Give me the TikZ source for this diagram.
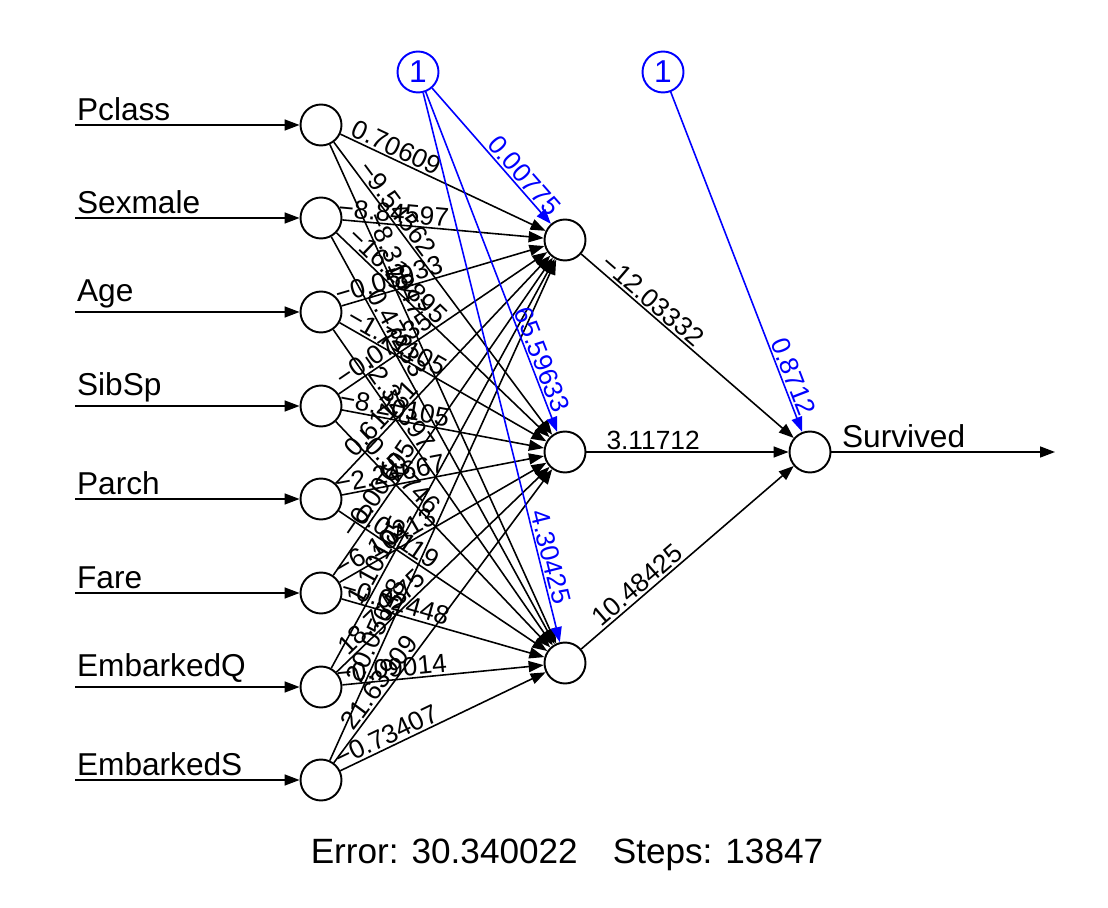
\documentclass[tikz,border=0pt]{standalone}
\usepackage{fontspec}
\setmainfont{Liberation Sans}
\usetikzlibrary{arrows.meta}

\tikzset{
  neuron/.style={draw, circle, line width=1.1pt, minimum size=0.82cm, inner sep=0pt},
  conn/.style={-{Triangle[length=0.3cm,width=0.22cm]}, line width=0.9pt},
  wlabel/.style={sloped, above, inner sep=1pt, font=\fontsize{15}{15}\selectfont},
  bconn/.style={conn, draw=blue},
  blabel/.style={wlabel, text=blue},
  iolabel/.style={anchor=south west, inner sep=1pt, font=\fontsize{18}{18}\selectfont}
}

\begin{document}
\begin{tikzpicture}[x=0.02cm, y=-0.02cm]
\useasboundingbox (0,0) rectangle (1108,908);

% input layer
\foreach \name/\yy [count=\i] in {Pclass/125, Sexmale/218, Age/312, SibSp/406, Parch/499, Fare/593, EmbarkedQ/687, EmbarkedS/780}{
    \node[neuron] (in\i) at (321,\yy) {};
    \coordinate (src\i) at (75,\yy);
    \node[iolabel] (lab\i) at (75,\yy-2) {\name};
    \draw[conn] (src\i) -- (in\i);
}

% hidden and output layer
\node[neuron] (hid1) at (565,240) {};
\node[neuron] (hid2) at (565,452) {};
\node[neuron] (hid3) at (565,663) {};
\node[neuron] (out) at (810,452) {};
\node[neuron, draw=blue, text=blue, font=\fontsize{18}{18}\selectfont] (bias1) at (418,72) {1};
\node[neuron, draw=blue, text=blue, font=\fontsize{18}{18}\selectfont] (bias2) at (663,72) {1};

% input -> hidden weights
\foreach \i/\wa/\wb/\wc in {1/0.70609/−9.54562/−8.31647, 2/−8.84597/−16.29895/0.47233,
    3/−0.05933/−1.71105/−2.32397, 4/−0.07835/−8.20105/−0.52746,
    5/0.61171/−2.24667/0.03119, 6/−0.00605/−6.10413/−0.02448,
    7/1.10105/18.71575/−0.09014, 8/20.05648/21.63909/−0.73407}{
    \draw[conn] (in\i) -- node[wlabel, pos=0.25] {\wa} (hid1);
    \draw[conn] (in\i) -- node[wlabel, pos=0.25] {\wb} (hid2);
    \draw[conn] (in\i) -- node[wlabel, pos=0.25] {\wc} (hid3);
}

% hidden -> output
\draw[conn] (hid1) -- node[wlabel, pos=0.3] {−12.03332} (out);
\draw[conn] (hid2) -- node[wlabel, pos=0.33] {3.11712} (out);
\draw[conn] (hid3) -- node[wlabel, pos=0.3] {10.48425} (out);

% bias weights
\draw[bconn] (bias1) -- node[blabel, pos=0.7] {0.00775} (hid1);
\draw[bconn] (bias1) -- node[blabel, pos=0.8] {65.59633} (hid2);
\draw[bconn] (bias1) -- node[blabel, pos=0.85] {4.30425} (hid3);
\draw[bconn] (bias2) -- node[blabel, pos=0.85] {0.8712} (out);

% response
\coordinate (sink) at (1055,452);
\node[iolabel] (resp) at (840,450) {Survived};
\draw[conn] (out) -- (sink);

\node[font=\fontsize{20}{20}\selectfont] (err) at (567,855) {Error: 30.340022\quad Steps: 13847};
\end{tikzpicture}
\end{document}
